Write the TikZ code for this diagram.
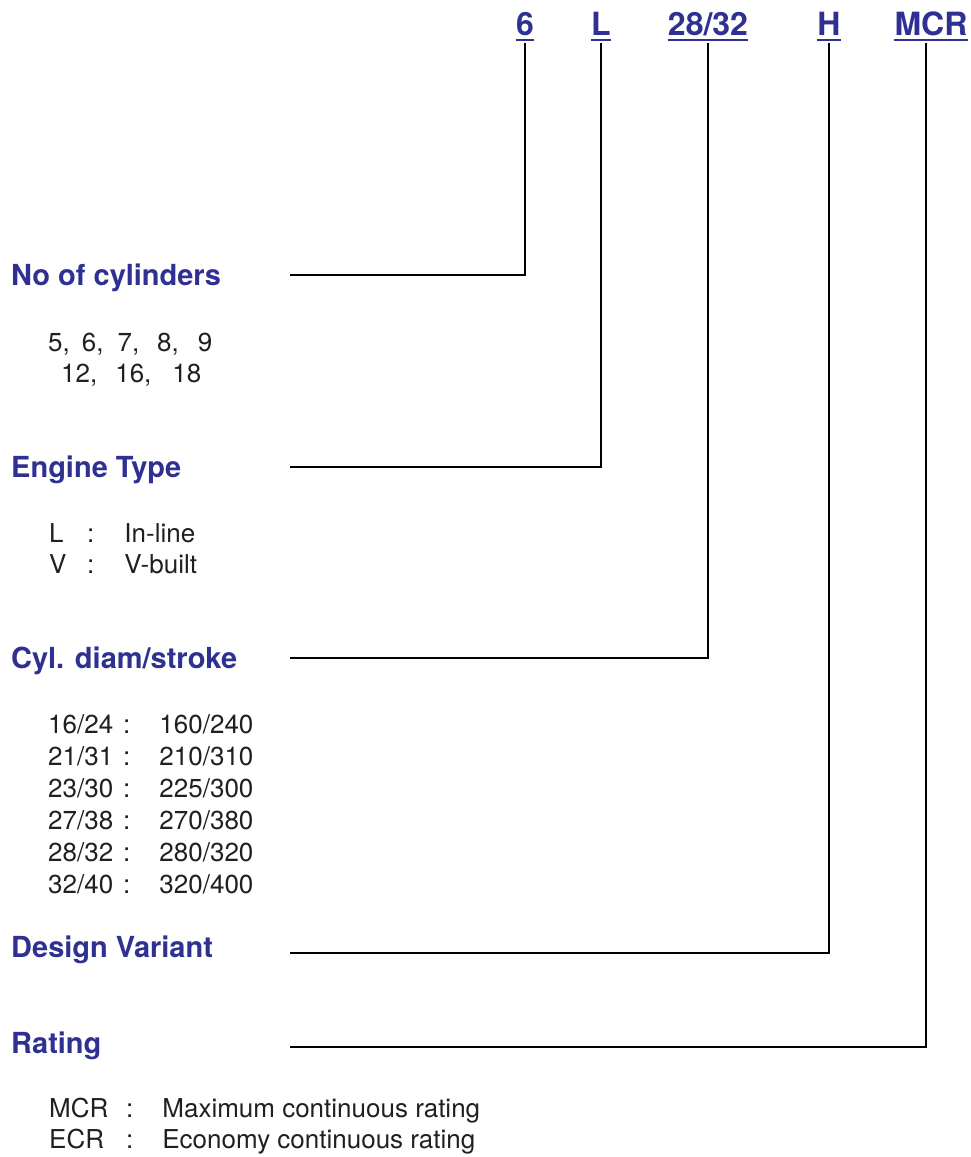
\documentclass[tikz,border=0pt]{standalone}
\usepackage{fontspec}
\setmainfont{TeX Gyre Heros}
\usepackage{tikz}
\usetikzlibrary{positioning,calc}
\definecolor{CodeBlue}{HTML}{2E3192}
\definecolor{TextGrey}{HTML}{231F20}

\begin{document}
\begin{tikzpicture}[x=1pt, y=-1pt,
    code/.style={anchor=base, inner sep=0pt, text=CodeBlue, font=\fontsize{32}{32}\selectfont\bfseries},
    heading/.style={anchor=base west, inner sep=0pt, text=CodeBlue, font=\fontsize{29}{29}\selectfont\bfseries},
    body/.style={anchor=base west, inner sep=0pt, text=TextGrey, font=\fontsize{26}{26}\selectfont},
    uline/.style={draw=CodeBlue, line width=1.6pt},
    link/.style={draw=black, line width=1.8pt}]
  \useasboundingbox (0,0) rectangle (971,1157);

  % type code
  \node[code] (six) at (525,35) {6};
  \node[code] (type) at (601,35) {L};
  \node[code] (bore) at (708,35) {28/32};
  \node[code] (variant) at (829,35) {H};
  \node[code] (rate) at (931,35) {MCR};
  \foreach \n in {six,type,bore,variant,rate}
    \draw[uline] ([yshift=-5pt]\n.base west) -- ([yshift=-5pt]\n.base east);

  % headings
  \node[heading] (cylinders) at (11,285) {No of cylinders};
  \node[heading] (engine) at (11,477) {Engine Type};
  \node[heading] (diam) at (11,668) {Cyl. diam/stroke};
  \node[heading] (design) at (11,957) {Design Variant};
  \node[heading] (rating) at (11,1053) {Rating};

  % values
  \node[body] (cyl1) at (48,351) {5,\hspace{12pt}6,\hspace{14pt}7,\hspace{18pt}8,\hspace{19pt}9};
  \node[body] (cyl2) at (61,382) {12,\hspace{18pt}16,\hspace{21pt}18};

  \node[body] (inline) at (49,542) {\makebox[38pt][l]{L}:\hspace{30pt}In-line};
  \node[body] (vbuilt) at (49,573) {\makebox[38pt][l]{V}:\hspace{30pt}V-built};

  \node[body] (d1) at (48,733) {16/24\hspace{10pt}:\hspace{29pt}160/240};
  \node[body] (d2) at (48,765) {21/31\hspace{10pt}:\hspace{29pt}210/310};
  \node[body] (d3) at (48,797) {23/30\hspace{10pt}:\hspace{29pt}225/300};
  \node[body] (d4) at (48,829) {27/38\hspace{10pt}:\hspace{29pt}270/380};
  \node[body] (d5) at (48,861) {28/32\hspace{10pt}:\hspace{29pt}280/320};
  \node[body] (d6) at (48,893) {32/40\hspace{10pt}:\hspace{29pt}320/400};

  \node[body] (mcr) at (49,1117) {\makebox[77pt][l]{MCR}:\hspace{29pt}Maximum continuous rating};
  \node[body] (ecr) at (49,1148) {\makebox[77pt][l]{ECR}:\hspace{29pt}Economy continuous rating};

  % connectors
  \coordinate (cylinders-end) at (290,275);
  \coordinate (engine-end) at (290,467);
  \coordinate (diam-end) at (290,658);
  \coordinate (design-end) at (290,953);
  \coordinate (rating-end) at (290,1047);
  \draw[link] (cylinders-end) -| ([yshift=-8pt]six.base);
  \draw[link] (engine-end) -| ([yshift=-8pt]type.base);
  \draw[link] (diam-end) -| ([yshift=-8pt]bore.base);
  \draw[link] (design-end) -| ([yshift=-8pt]variant.base);
  \draw[link] (rating-end) -| ([xshift=-5pt,yshift=-8pt]rate.base);
\end{tikzpicture}
\end{document}
